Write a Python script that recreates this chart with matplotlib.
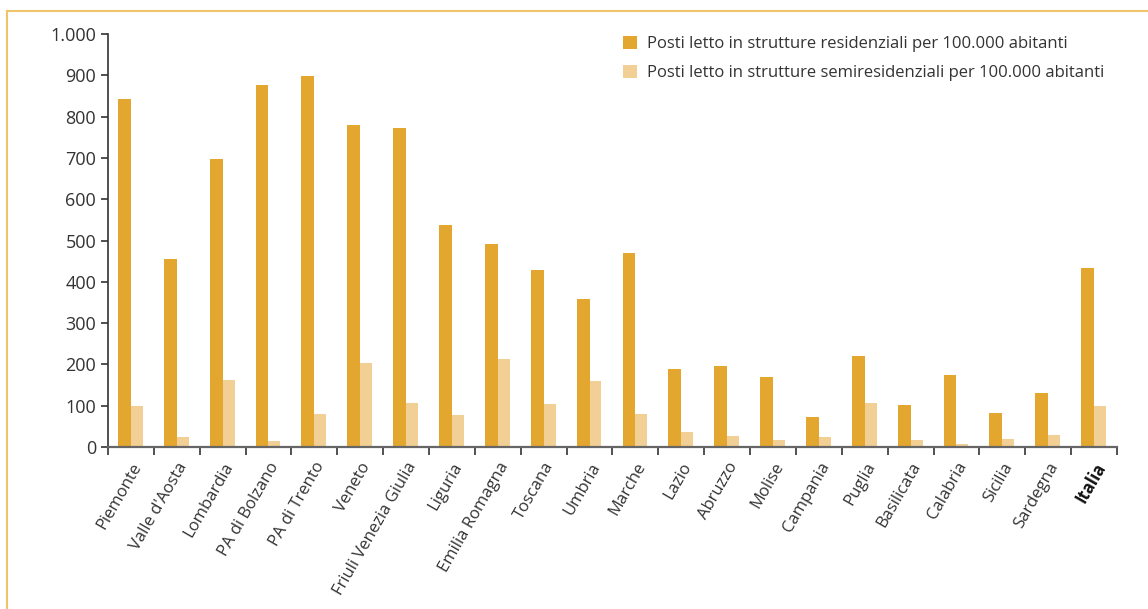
import numpy as np
import matplotlib
matplotlib.use("Agg")
import matplotlib.pyplot as plt
import matplotlib.ticker as mticker
from matplotlib.patches import Patch
from matplotlib.lines import Line2D

# ── Data ──────────────────────────────────────────────────────────────────────
regioni = ["Piemonte", "Valle d'Aosta", "Lombardia", "PA di Bolzano", "PA di Trento",
           "Veneto", "Friuli Venezia Giulia", "Liguria", "Emilia Romagna", "Toscana",
           "Umbria", "Marche", "Lazio", "Abruzzo", "Molise", "Campania", "Puglia",
           "Basilicata", "Calabria", "Sicilia", "Sardegna", "Italia"]
residenziali = [842, 455, 697, 876, 898, 780, 772, 537, 491, 429,
                358, 470, 189, 196, 170, 73, 220, 102, 174, 82, 131, 433]
semiresidenziali = [99, 24, 162, 14, 80, 203, 107, 77, 213, 104,
                    160, 80, 36, 27, 17, 24, 107, 17, 7, 19, 29, 99]

C_RES = "#E3A72F"
C_SEMI = "#F2CF94"
C_FRAME = "#EFC46A"
C_TEXT = "#333333"

plt.rcParams["font.family"] = ["Open Sans", "DejaVu Sans"]

fig = plt.figure(figsize=(11.48, 6.09), dpi=100)
ax = fig.add_axes([0.094, 0.266, 0.879, 0.678])

x = np.arange(len(regioni))
w = 0.28
ax.bar(x - w / 2, residenziali, width=w, color=C_RES, zorder=2)
ax.bar(x + w / 2 - 0.01, semiresidenziali, width=w - 0.02, color=C_SEMI, zorder=2)

ax.set_xlim(-0.5, len(regioni) - 0.5)
ax.set_ylim(0, 1000)
ax.yaxis.set_major_locator(mticker.MultipleLocator(100))
ax.yaxis.set_major_formatter(mticker.FuncFormatter(
    lambda v, p: f"{int(v):,}".replace(",", ".")))

# category boundaries as ticks, labels at centers
ax.set_xticks(np.arange(-0.5, len(regioni), 1.0))
ax.set_xticklabels([])
ax.set_xticks(x, minor=True)
ax.set_xticklabels(regioni, minor=True, rotation=60, ha="right",
                   rotation_mode="anchor", fontsize=12, color=C_TEXT)
ax.tick_params(axis="x", which="minor", length=0, pad=9)
ax.tick_params(axis="x", which="major", length=6, width=1.2, color="#333333")
ax.tick_params(axis="y", length=5, width=1.2, color="#333333",
               labelsize=13, labelcolor=C_TEXT)
for lbl in ax.get_xticklabels(minor=True):
    if lbl.get_text() == "Italia":
        lbl.set_fontweight("bold")
        lbl.set_color("#111111")

ax.spines[["top", "right"]].set_visible(False)
ax.spines["left"].set_color("#333333")
ax.spines["left"].set_linewidth(1.2)
ax.spines["bottom"].set_color("#666666")
ax.spines["bottom"].set_linewidth(1.6)

handles = [Patch(facecolor=C_RES, label="Posti letto in strutture residenziali per 100.000 abitanti"),
           Patch(facecolor=C_SEMI, label="Posti letto in strutture semiresidenziali per 100.000 abitanti")]
leg = fig.legend(handles=handles, loc="upper left", bbox_to_anchor=(0.530, 0.965),
                 frameon=False, fontsize=12, handlelength=0.8, handleheight=0.8,
                 handletextpad=0.6, labelspacing=0.75, labelcolor=C_TEXT)

# light orange frame (top and left)
fig.add_artist(Line2D([7 / 1148, 1.0], [1 - 11 / 609, 1 - 11 / 609],
                      transform=fig.transFigure, color=C_FRAME, linewidth=1.5))
fig.add_artist(Line2D([7 / 1148, 7 / 1148], [0, 1 - 11 / 609],
                      transform=fig.transFigure, color=C_FRAME, linewidth=1.5))

fig.savefig("out.png", dpi=100)
